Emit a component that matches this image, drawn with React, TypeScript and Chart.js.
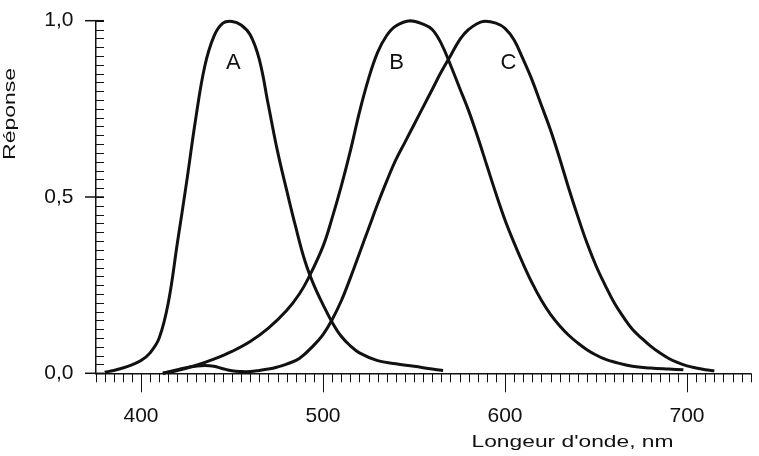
import React, { useEffect, useRef } from "react";
import { Chart, registerables } from "chart.js";

Chart.register(...registerables);

// ---- data (wavelength in nm, relative response) ----
const aNm = [380, 385, 390, 395, 400, 405, 410, 415, 420, 425, 430, 435, 440, 445, 450, 455, 460, 465, 470, 475, 480, 485, 490, 495, 500, 505, 510, 515, 520, 530, 540, 550, 560, 566];
const aVal = [0.003, 0.008, 0.015, 0.024, 0.036, 0.058, 0.1, 0.2, 0.37, 0.54, 0.72, 0.87, 0.955, 0.993, 0.998, 0.988, 0.96, 0.89, 0.76, 0.63, 0.52, 0.415, 0.32, 0.25, 0.195, 0.145, 0.105, 0.078, 0.058, 0.036, 0.027, 0.02, 0.012, 0.008];

const bNm = [412, 420, 430, 440, 450, 460, 470, 480, 487, 492, 500, 505, 510, 515, 520, 525, 530, 535, 540, 548, 555, 560, 565, 570, 575, 580, 585, 590, 595, 600, 605, 610, 615, 620, 625, 630, 635, 640, 645, 650, 655, 660, 670, 680, 690, 698];
const bVal = [0, 0.008, 0.022, 0.04, 0.062, 0.09, 0.128, 0.178, 0.225, 0.27, 0.36, 0.44, 0.53, 0.63, 0.74, 0.835, 0.91, 0.958, 0.985, 1.0, 0.99, 0.975, 0.935, 0.875, 0.81, 0.745, 0.67, 0.59, 0.51, 0.435, 0.37, 0.31, 0.255, 0.207, 0.167, 0.135, 0.108, 0.086, 0.067, 0.052, 0.04, 0.032, 0.02, 0.015, 0.012, 0.01];

const cNm = [412, 420, 425, 430, 435, 440, 445, 450, 455, 460, 465, 470, 475, 480, 487, 495, 500, 505, 510, 515, 520, 525, 530, 535, 540, 545, 550, 555, 560, 565, 570, 575, 580, 588, 595, 600, 605, 610, 615, 620, 625, 630, 635, 640, 645, 650, 655, 660, 665, 670, 675, 680, 685, 690, 695, 700, 705, 710, 715];
const cVal = [0, 0.01, 0.016, 0.02, 0.022, 0.02, 0.013, 0.007, 0.005, 0.005, 0.008, 0.012, 0.018, 0.026, 0.042, 0.08, 0.11, 0.152, 0.205, 0.27, 0.34, 0.41, 0.48, 0.545, 0.605, 0.655, 0.705, 0.755, 0.805, 0.855, 0.9, 0.945, 0.975, 0.998, 0.993, 0.978, 0.945, 0.89, 0.83, 0.76, 0.69, 0.61, 0.525, 0.445, 0.37, 0.305, 0.25, 0.2, 0.16, 0.125, 0.1, 0.077, 0.058, 0.042, 0.03, 0.021, 0.015, 0.01, 0.007];

const xTicks = [400, 500, 600, 700];
const yTicks = [0, 0.5, 1.0];
const xMin = 375;
const xMax = 735;
const xMinorStep = 5;
const yMinorStep = 0.025;

const curveNames = ["A", "B", "C"];
const curveNameNm = [450.7, 540.5, 601.9];
const curveNameVal = [0.879, 0.879, 0.879];

const xTitle = "Longeur d'onde, nm";
const yTitle = "Réponse";

const FONT = '"Liberation Sans", Arial, Helvetica, sans-serif';
const INK = "#111111";

function toPoints(xs: number[], ys: number[]) {
  return xs.map((x, i) => ({ x, y: ys[i] }));
}

const decorPlugin = {
  id: "decor",
  afterDraw(chart: any) {
    const ctx = chart.ctx as CanvasRenderingContext2D;
    const xs = chart.scales.x;
    const ys = chart.scales.y;
    const axisX = chart.chartArea.left;
    const axisY = chart.chartArea.bottom;
    ctx.save();
    ctx.strokeStyle = INK;
    ctx.lineWidth = 1;
    // x minor ticks (downward)
    const nX = Math.round((xMax - xMin) / xMinorStep);
    for (let i = 0; i <= nX; i++) {
      const v = xMin + i * xMinorStep;
      const px = Math.round(xs.getPixelForValue(v)) + 0.5;
      ctx.beginPath();
      ctx.moveTo(px, axisY);
      ctx.lineTo(px, axisY + 9);
      ctx.stroke();
    }
    // x major ticks
    xTicks.forEach((v) => {
      const px = Math.round(xs.getPixelForValue(v)) + 0.5;
      ctx.beginPath();
      ctx.moveTo(px, axisY);
      ctx.lineTo(px, axisY + 19);
      ctx.stroke();
    });
    // y minor ticks (inward)
    const nY = Math.round(1 / yMinorStep);
    for (let i = 0; i <= nY; i++) {
      const v = i * yMinorStep;
      const py = Math.round(ys.getPixelForValue(v)) + 0.5;
      ctx.beginPath();
      ctx.moveTo(axisX, py);
      ctx.lineTo(axisX + 8.5, py);
      ctx.stroke();
    }
    // y major ticks (crossing the axis)
    ctx.lineWidth = 1.5;
    yTicks.forEach((v) => {
      const py = ys.getPixelForValue(v);
      ctx.beginPath();
      ctx.moveTo(axisX - 10.5, py);
      ctx.lineTo(axisX + 8.5, py);
      ctx.stroke();
    });

    // curve names
    ctx.fillStyle = INK;
    ctx.font = `22px ${FONT}`;
    ctx.textAlign = "center";
    ctx.textBaseline = "middle";
    curveNames.forEach((n, i) => {
      ctx.fillText(n, xs.getPixelForValue(curveNameNm[i]), ys.getPixelForValue(curveNameVal[i]));
    });

    // axis titles
    ctx.font = `17px ${FONT}`;
    ctx.save();
    ctx.translate(572.5, 442.5);
    ctx.scale(1.34, 1);
    ctx.fillText(xTitle, 0, 0);
    ctx.restore();

    ctx.save();
    ctx.translate(10.5, 114);
    ctx.rotate(-Math.PI / 2);
    ctx.scale(1.35, 1);
    ctx.fillText(yTitle, 0, 0);
    ctx.restore();

    ctx.restore();
  },
};

export default function App() {
  const ref = useRef<HTMLCanvasElement | null>(null);

  useEffect(() => {
    if (!ref.current) return;
    const mk = (xs: number[], ys: number[]) => ({
      data: toPoints(xs, ys),
      borderColor: INK,
      borderWidth: 3,
      pointRadius: 0,
      fill: false,
      tension: 0.4,
      clip: false as any,
    });
    const chart = new Chart(ref.current, {
      type: "line",
      data: {
        datasets: [mk(aNm, aVal), mk(bNm, bVal), mk(cNm, cVal)],
      },
      options: {
        animation: false,
        responsive: true,
        maintainAspectRatio: false,
        layout: { padding: { left: 0, right: 8.3, top: 20.7, bottom: 0 } },
        plugins: { legend: { display: false }, tooltip: { enabled: false } },
        scales: {
          x: {
            type: "linear",
            min: xMin,
            max: xMax,
            afterBuildTicks: (s: any) => {
              s.ticks = xTicks.map((v) => ({ value: v }));
            },
            afterFit: (s: any) => {
              s.height = 82.7;
              s.paddingLeft = 0;
              s.paddingRight = 0;
            },
            grid: { display: false, drawTicks: false },
            border: { display: true, color: INK, width: 1.5 },
            ticks: {
              padding: 30,
              color: INK,
              autoSkip: false,
              maxRotation: 0,
              font: { family: FONT, size: 21 },
              callback: (v: any) => String(v),
            },
          },
          y: {
            type: "linear",
            min: 0,
            max: 1,
            afterBuildTicks: (s: any) => {
              s.ticks = yTicks.map((v) => ({ value: v }));
            },
            afterFit: (s: any) => {
              s.width = 95.5;
              s.paddingTop = 0;
              s.paddingBottom = 0;
            },
            grid: { display: false, drawTicks: false },
            border: { display: true, color: INK, width: 1.5 },
            ticks: {
              padding: 22,
              color: INK,
              font: { family: FONT, size: 21 },
              callback: (v: any) => Number(v).toFixed(1).replace(".", ","),
            },
          },
        },
      },
      plugins: [decorPlugin],
    } as any);
    return () => chart.destroy();
  }, []);

  return (
    <div style={{ position: "fixed", left: 0, top: 0, width: 759, height: 456, background: "#fff" }}>
      <canvas ref={ref} />
    </div>
  );
}
